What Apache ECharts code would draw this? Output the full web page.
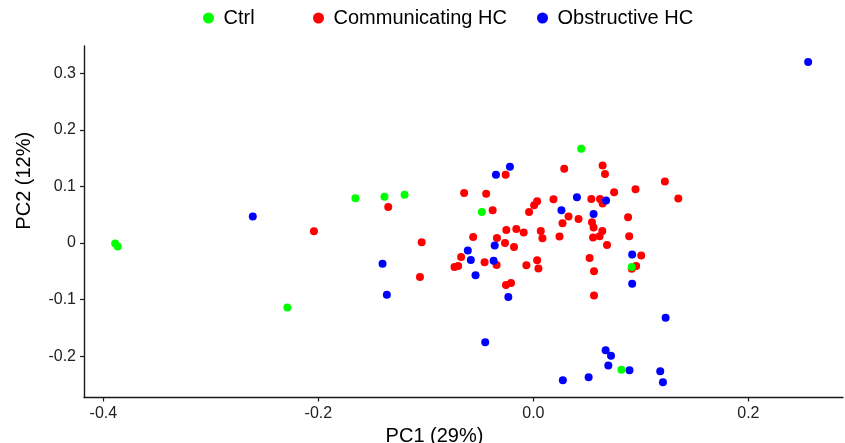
<!DOCTYPE html>
<html>
<head>
<meta charset="utf-8">
<script src="https://cdn.jsdelivr.net/npm/echarts@6/dist/echarts.min.js"></script>
<style>
  html, body { margin: 0; padding: 0; background: #fff; }
  #pca { width: 845px; height: 443px; }
</style>
</head>
<body>
<div id="pca"></div>
<script>
// PC1 / PC2 scores per group, [x, y]
var ctrl = [
  [-0.389, -0.001], [-0.3866, -0.0064], [-0.2288, -0.1138], [-0.1655, 0.0791],
  [-0.1385, 0.0815], [-0.1198, 0.085], [0.0445, 0.1664], [-0.0479, 0.0549],
  [0.0915, -0.0425], [0.0819, -0.2241]
];
var communicating = [
  [-0.2041, 0.0207], [-0.135, 0.0637], [-0.1039, 0.0012], [-0.1055, -0.0602],
  [0.0287, 0.131], [0.0644, 0.137], [0.0666, 0.122], [-0.0258, 0.1204],
  [0.1223, 0.1086], [0.095, 0.095], [-0.0644, 0.0885], [-0.0439, 0.0868],
  [0.0751, 0.0897], [0.1348, 0.0785], [0.0539, 0.0779], [0.062, 0.0779],
  [0.0644, 0.0697], [0.0187, 0.0773], [0.0035, 0.0738], [0.0007, 0.0667],
  [-0.004, 0.0549], [-0.0379, 0.0579], [0.0327, 0.0467], [0.042, 0.0425],
  [0.0271, 0.0349], [0.0545, 0.0366], [0.056, 0.0273], [0.0881, 0.0455],
  [-0.0252, 0.023], [-0.0159, 0.0248], [-0.009, 0.0184], [0.0069, 0.0212],
  [0.0084, 0.0083], [0.0243, 0.0113], [0.0641, 0.0212], [0.0616, 0.0119],
  [0.0555, 0.0096], [0.0891, 0.0119], [0.0685, -0.0035], [-0.056, 0.0106],
  [-0.0339, 0.0088], [-0.0264, 0.0], [-0.018, -0.0071], [-0.0672, -0.0248],
  [-0.0454, -0.0342], [-0.0342, -0.0389], [-0.0734, -0.0425], [-0.070, -0.0407],
  [-0.0065, -0.0395], [0.0035, -0.0306], [0.0047, -0.0453], [0.0523, -0.0265],
  [0.1003, -0.0223], [0.0956, -0.0407], [0.0915, -0.0455], [-0.0255, -0.0743],
  [-0.0208, -0.0708], [0.0564, -0.0501], [0.0564, -0.0926]
];
var obstructive = [
  [-0.261, 0.0467], [-0.1403, -0.0365], [-0.1363, -0.0913], [-0.0218, 0.1345],
  [-0.0348, 0.1204], [0.0405, 0.0809], [0.0676, 0.075], [0.0261, 0.0579],
  [0.056, 0.0513], [-0.036, -0.0046], [-0.061, -0.0135], [-0.0582, -0.0301],
  [-0.037, -0.0312], [0.0919, -0.0205], [-0.0538, -0.0572], [-0.0233, -0.0956],
  [0.0919, -0.0719], [0.123, -0.132], [-0.0448, -0.1752], [0.0672, -0.1894],
  [0.0722, -0.1993], [0.0697, -0.2165], [0.0894, -0.2248], [0.118, -0.2265],
  [0.1205, -0.246], [0.0274, -0.2425], [0.0514, -0.2372], [0.2556, 0.3198]
];
var xTicks = [-0.4, -0.2, 0, 0.2];
var yTicks = [-0.2, -0.1, 0, 0.1, 0.2, 0.3];

var FONT = '"Liberation Sans", Arial, sans-serif';
var chart = echarts.init(document.getElementById('pca'));

function legendAt(name, left) {
  return {
    data: [name],
    left: left,
    top: 3,
    itemWidth: 20,
    itemHeight: 11,
    icon: 'circle',
    textStyle: { fontFamily: FONT, fontSize: 20, color: '#000' }
  };
}

var axisCommon = {
  type: 'value',
  nameLocation: 'middle',
  splitLine: { show: false },
  axisLine: { onZero: false, lineStyle: { color: '#1a1a1a', width: 1.4 } },
  axisTick: { length: 4, lineStyle: { color: '#1a1a1a', width: 1.2 } },
  axisLabel: { fontFamily: FONT, fontSize: 16, color: '#222', margin: 8 }
};

var option = {
  animation: false,
  legend: [
    legendAt('Ctrl', 198),
    legendAt('Communicating HC', 308),
    legendAt('Obstructive HC', 532)
  ],
  grid: { left: 84, right: 2, top: 46, bottom: 45.5, outerBoundsMode: 'none' },
  xAxis: echarts.util.merge({
    min: -0.418,
    max: 0.288,
    name: 'PC1 (29%)',
    nameGap: 27,
    nameTextStyle: { fontFamily: FONT, fontSize: 20, color: '#000', padding: [0, 58, 0, 0] },
    axisTick: { customValues: xTicks },
    axisLabel: {
      customValues: xTicks,
      formatter: function (v) { return v.toFixed(1); }
    }
  }, axisCommon),
  yAxis: echarts.util.merge({
    min: -0.273,
    max: 0.348,
    name: 'PC2 (12%)',
    nameGap: 50,
    nameTextStyle: { fontFamily: FONT, fontSize: 20, color: '#000', padding: [0, 0, 0, 82] },
    axisTick: { customValues: yTicks },
    axisLabel: {
      customValues: yTicks,
      formatter: function (v) { return v === 0 ? '0' : v.toFixed(1); }
    }
  }, axisCommon),
  series: [
    { name: 'Communicating HC', type: 'scatter', data: communicating, symbolSize: 8,
      itemStyle: { color: '#ff0000', opacity: 1 } },
    { name: 'Obstructive HC', type: 'scatter', data: obstructive, symbolSize: 8,
      itemStyle: { color: '#0000ff', opacity: 1 } },
    { name: 'Ctrl', type: 'scatter', data: ctrl, symbolSize: 8,
      itemStyle: { color: '#00ff00', opacity: 1 } }
  ]
};

chart.setOption(option);
</script>
</body>
</html>
